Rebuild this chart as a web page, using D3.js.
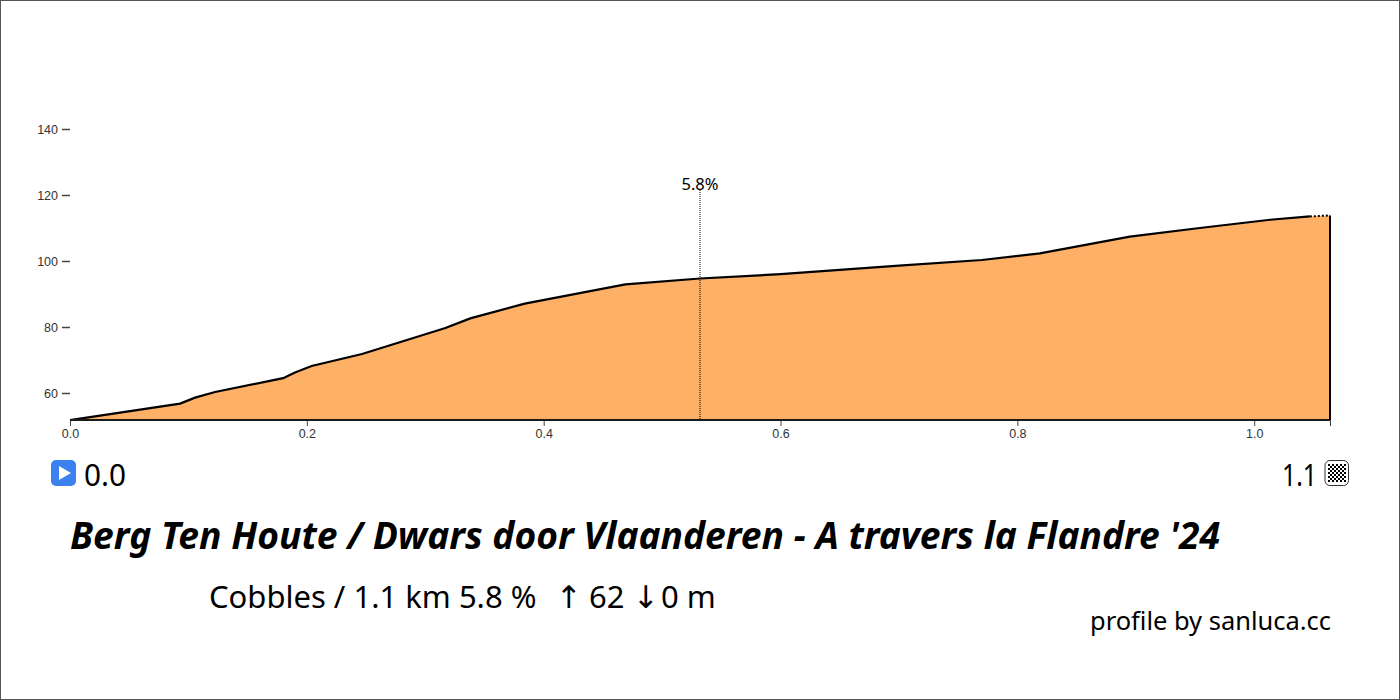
<!DOCTYPE html>
<html>
<head>
<meta charset="utf-8">
<script src="https://cdn.jsdelivr.net/npm/d3@7"></script>
<style>
  html, body { margin: 0; padding: 0; background: #fff; }
  svg { display: block; }
  .lab { font-family: "Noto Sans", sans-serif; fill: #000; white-space: pre; }
</style>
</head>
<body>
<svg width="1400" height="700"></svg>
<script>
// profile
const distKm = [0, 0.093, 0.1056, 0.1225, 0.18, 0.19, 0.204, 0.2466, 0.317, 0.338, 0.384, 0.469, 0.532, 0.6, 0.7, 0.77, 0.819, 0.895, 0.954, 1.0135, 1.047];
const elevM = [51.8, 56.8, 58.6, 60.3, 64.5, 66.2, 68.2, 71.8, 79.7, 82.6, 87.1, 92.9, 94.7, 96, 98.6, 100.3, 102.3, 107.4, 110, 112.5, 113.5];
const lastDist = [1.047, 1.064];
const lastElev = [113.5, 113.8];
const xTicks = [0, 0.2, 0.4, 0.6, 0.8, 1.0];
const yTicks = [60, 80, 100, 120, 140];
const gradeAt = 0.532;
const gradeLabel = "5.8%";

const svg = d3.select("svg");
const W = 1400, H = 700;

const x = d3.scaleLinear().domain([0, 1.064]).range([70, 1330]);
const y = d3.scaleLinear().domain([60, 140]).range([393, 129]);
const baseY = 420;

// frame
svg.append("rect").attr("x", 0.5).attr("y", 0.5).attr("width", W - 1).attr("height", H - 1)
  .attr("fill", "#fff").attr("stroke", "#555");

const allDist = distKm.concat(lastDist.slice(1));
const allElev = elevM.concat(lastElev.slice(1));
const pts = allDist.map((d, i) => [d, allElev[i]]);

svg.append("path").datum(pts)
  .attr("d", d3.area().x(d => x(d[0])).y0(baseY).y1(d => y(d[1])))
  .attr("fill", "#fdb066");

svg.append("path").datum(pts.slice(0, distKm.length))
  .attr("d", d3.line().x(d => x(d[0])).y(d => y(d[1])))
  .attr("fill", "none").attr("stroke", "#000").attr("stroke-width", 2.2);

svg.append("path").datum(lastDist.map((d, i) => [d, lastElev[i]]))
  .attr("d", d3.line().x(d => x(d[0])).y(d => y(d[1])))
  .attr("fill", "none").attr("stroke", "#000").attr("stroke-width", 2).attr("stroke-dasharray", "2,2");

// closing edge at the finish
svg.append("line").attr("x1", x(1.064)).attr("x2", x(1.064))
  .attr("y1", y(113.8)).attr("y2", baseY).attr("stroke", "#000").attr("stroke-width", 2);

// axes
const xAxis = svg.append("g").attr("transform", `translate(0,${baseY})`)
  .call(d3.axisBottom(x).tickValues(xTicks).tickFormat(d3.format(".1f")));
xAxis.selectAll("text").attr("font-family", "'Liberation Sans', sans-serif").attr("font-size", 12.5).attr("fill", "#333").attr("dy", "0.75em");
xAxis.select(".domain").attr("stroke", "#333").attr("stroke-width", 1);
xAxis.selectAll(".tick line").attr("stroke", "#444");

const yAxis = svg.append("g").attr("transform", "translate(70,0)")
  .call(d3.axisLeft(y).tickValues(yTicks).tickSize(8));
yAxis.select(".domain").remove();
yAxis.selectAll("text").attr("font-family", "'Liberation Sans', sans-serif").attr("font-size", 12.5).attr("fill", "#333").attr("x", -12);
yAxis.selectAll(".tick line").attr("stroke", "#444").attr("stroke-width", 1.5);

svg.append("line").attr("x1", 70).attr("x2", 1330).attr("y1", baseY).attr("y2", baseY)
  .attr("stroke", "#1a1a1a").attr("stroke-width", 2);

// grade marker
svg.append("line").attr("x1", x(gradeAt)).attr("x2", x(gradeAt))
  .attr("y1", 190).attr("y2", baseY)
  .attr("stroke", "#000").attr("stroke-width", 1).attr("stroke-dasharray", "1,1");
svg.append("text").attr("class", "lab").attr("x", x(gradeAt)).attr("y", 190)
  .attr("text-anchor", "middle").attr("font-size", 16.5).text(gradeLabel);

// start icon
const start = svg.append("g").attr("transform", "translate(51,460)");
start.append("rect").attr("width", 25).attr("height", 26).attr("rx", 5).attr("fill", "#3b82f0");
start.append("path").attr("d", "M8 6 L20 13 L8 20 Z").attr("fill", "#fff");

// finish icon
const defs = svg.append("defs");
const pat = defs.append("pattern").attr("id", "chk").attr("width", 4).attr("height", 4)
  .attr("patternUnits", "userSpaceOnUse").attr("x", 1328).attr("y", 464);
pat.append("rect").attr("width", 2).attr("height", 2).attr("fill", "#000");
pat.append("rect").attr("x", 2).attr("y", 2).attr("width", 2).attr("height", 2).attr("fill", "#000");
svg.append("rect").attr("x", 1325).attr("y", 460.5).attr("width", 23.5).attr("height", 25).attr("rx", 5)
  .attr("fill", "#fff").attr("stroke", "#333").attr("stroke-width", 1);
svg.append("rect").attr("x", 1328).attr("y", 464).attr("width", 18).attr("height", 18).attr("fill", "url(#chk)");

// texts
svg.append("text").attr("class", "lab").attr("x", 84).attr("y", 486).attr("font-size", 30)
  .attr("textLength", 42).attr("lengthAdjust", "spacingAndGlyphs").text("0.0");
svg.append("text").attr("class", "lab").attr("x", 1282).attr("y", 486).attr("font-size", 30)
  .attr("textLength", 35).attr("lengthAdjust", "spacingAndGlyphs").text("1.1");

svg.append("text").attr("class", "lab").attr("x", 70).attr("y", 549)
  .attr("font-size", 37).attr("font-weight", 700).attr("font-style", "italic")
  .attr("textLength", 1150).attr("lengthAdjust", "spacingAndGlyphs")
  .text("Berg Ten Houte / Dwars door Vlaanderen - A travers la Flandre '24");

// one line, each run placed where the reference has it
const sub = svg.append("text").attr("class", "lab").attr("y", 608).attr("font-size", 31);
sub.append("tspan").attr("x", 209).text("Cobbles / 1.1 km 5.8 % ");
sub.append("tspan").attr("x", 556).attr("font-family", "'DejaVu Sans', sans-serif").text("\u2191 ");
sub.append("tspan").attr("x", 589).text("62 ");
sub.append("tspan").attr("x", 633).attr("font-family", "'DejaVu Sans', sans-serif").text("\u2193");
sub.append("tspan").attr("x", 661).text("0 m");

svg.append("text").attr("class", "lab").attr("x", 1090).attr("y", 630)
  .attr("font-size", 25).attr("textLength", 241).attr("lengthAdjust", "spacingAndGlyphs")
  .text("profile by sanluca.cc");
</script>
</body>
</html>
